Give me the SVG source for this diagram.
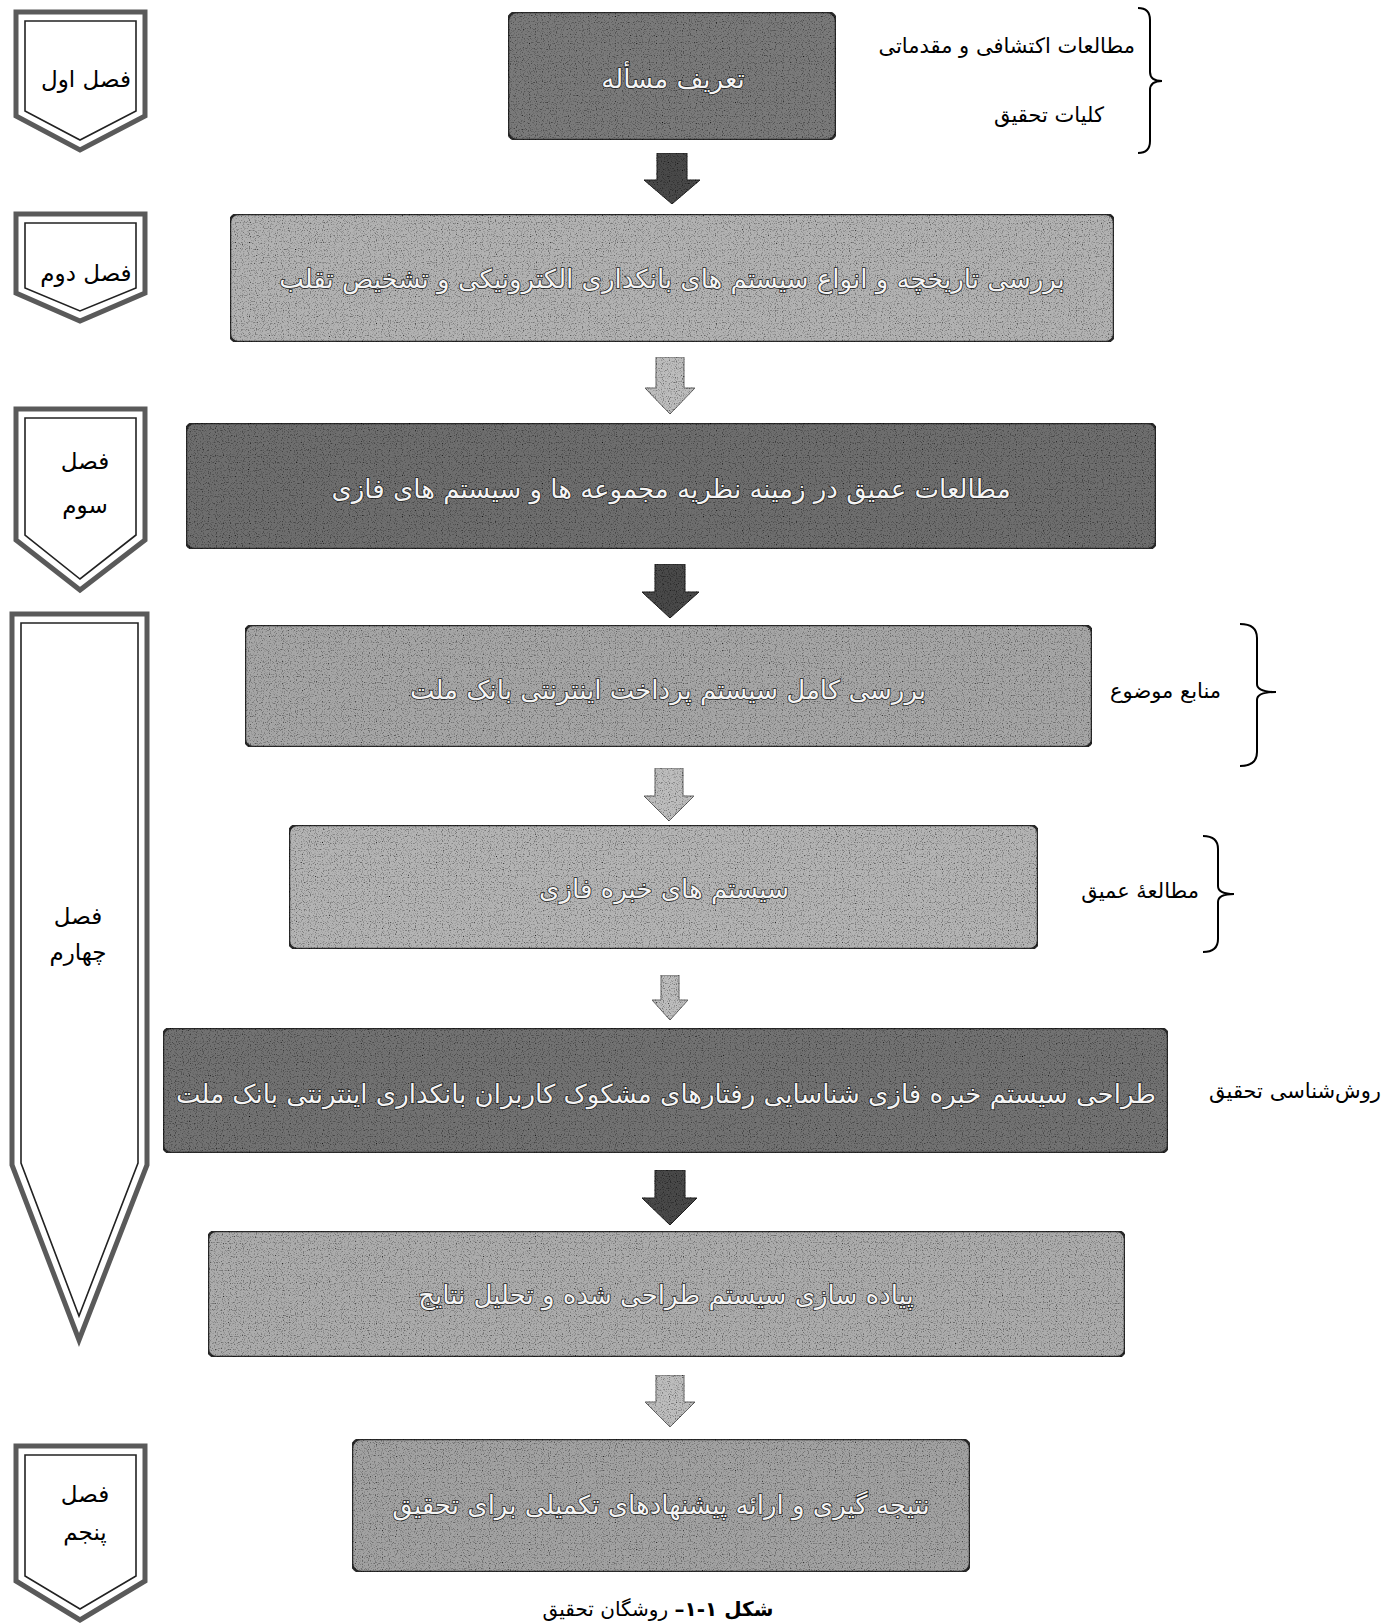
<svg xmlns="http://www.w3.org/2000/svg" width="1382" height="1623" viewBox="0 0 1382 1623">
<style>
.box{stroke:#2a2a2a;stroke-width:2.5}
.bt{font-family:"DejaVu Sans",sans-serif;font-size:26px;fill:#f4f4f4;stroke:#222;stroke-width:1.6;paint-order:stroke;text-anchor:middle;direction:rtl}
.lbl{font-family:"DejaVu Sans",sans-serif;font-size:21px;fill:#000;direction:rtl}
.ch-out{fill:#fff;stroke:#5a5a5a;stroke-width:5;stroke-linejoin:miter}
.ch-in{fill:none;stroke:#222;stroke-width:1.6}
.cht{font-family:"DejaVu Sans",sans-serif;font-size:23px;fill:#000;text-anchor:middle;direction:rtl}
.brace{fill:none;stroke:#000;stroke-width:2}
.ad{fill:#4a4a4a;stroke:#222;stroke-width:1}
.al{fill:#bdbdbd;stroke:#666;stroke-width:1}
</style>
<defs>
<filter id="grain" x="0" y="0" width="100%" height="100%">
<feTurbulence type="fractalNoise" baseFrequency="0.85" numOctaves="1" seed="3" result="n"/>
<feColorMatrix in="n" type="matrix" values="0 0 0 0 0  0 0 0 0 0  0 0 0 0 0  0 0 0 -3 1.45" result="dots"/>
<feComposite in="dots" in2="SourceGraphic" operator="in" result="d2"/>
<feMerge><feMergeNode in="SourceGraphic"/><feMergeNode in="d2"/></feMerge>
</filter>
</defs>
<rect width="1382" height="1623" fill="#fff"/>

<g id="connectors">
<path class="ad" filter="url(#grain)" d="M657,153 H687 V180 H700 L672,204 L644,180 H657 Z"/>
<path class="al" filter="url(#grain)" d="M656,357 H684 V388 H695 L670,414 L645,388 H656 Z"/>
<path class="ad" filter="url(#grain)" d="M655,564 H685 V592 H699 L670,618 L642,592 H655 Z"/>
<path class="al" filter="url(#grain)" d="M655,768 H683 V796 H694 L669,821 L644,796 H655 Z"/>
<path class="al" filter="url(#grain)" d="M661,975 H679 V1000 H688 L670,1020 L652,1000 H661 Z"/>
<path class="ad" filter="url(#grain)" d="M655,1170 H685 V1198 H697 L670,1225 L642,1198 H655 Z"/>
<path class="al" filter="url(#grain)" d="M656,1375 H684 V1402 H695 L670,1427 L645,1402 H656 Z"/>
</g>

<g id="box1"><rect class="box" x="508" y="12" width="328" height="128" rx="9" fill="#7a7a7a" filter="url(#grain)"/><text class="bt" x="673" y="88" font-size="27">تعریف مسأله</text></g>
<g id="box2"><rect class="box" x="230" y="214" width="884" height="128" rx="8" fill="#b2b2b2" filter="url(#grain)"/><text class="bt" x="672" y="288" font-size="28">بررسی تاریخچه و انواع سیستم های بانکداری الکترونیکی و تشخیص تقلب</text></g>
<g id="box3"><rect class="box" x="186" y="423" width="970" height="126" rx="8" fill="#6e6e6e" filter="url(#grain)"/><text class="bt" x="671" y="498" font-size="27">مطالعات عمیق در زمینه نظریه مجموعه ها و سیستم های فازی</text></g>
<g id="box4"><rect class="box" x="245" y="625" width="847" height="122" rx="8" fill="#a6a6a6" filter="url(#grain)"/><text class="bt" x="668" y="699" font-size="29">بررسی کامل سیستم پرداخت اینترنتی بانک ملت</text></g>
<g id="box5"><rect class="box" x="289" y="825" width="749" height="124" rx="8" fill="#b4b4b4" filter="url(#grain)"/><text class="bt" x="664" y="898">سیستم های خبره فازی</text></g>
<g id="box6"><rect class="box" x="163" y="1028" width="1005" height="125" rx="8" fill="#727272" filter="url(#grain)"/><text class="bt" x="666" y="1103" font-size="28">طراحی سیستم خبره فازی شناسایی رفتارهای مشکوک کاربران بانکداری اینترنتی بانک ملت</text></g>
<g id="box7"><rect class="box" x="208" y="1231" width="917" height="126" rx="8" fill="#acacac" filter="url(#grain)"/><text class="bt" x="666" y="1304">پیاده سازی سیستم طراحی شده و تحلیل نتایج</text></g>
<g id="box8"><rect class="box" x="352" y="1439" width="618" height="133" rx="9" fill="#a2a2a2" filter="url(#grain)"/><text class="bt" x="661" y="1514" font-size="27">نتیجه گیری و ارائه پیشنهادهای تکمیلی برای تحقیق</text></g>

<g id="chapter1"><polygon class="ch-out" points="16,12 145,12 145,116 80,150 16,116"/><polygon class="ch-in" points="25,21 136,21 136,111 80,140 25,111"/><text class="cht" x="86" y="87">فصل اول</text></g>
<g id="chapter2"><polygon class="ch-out" points="16,214 145,214 145,293 80,321 16,293"/><polygon class="ch-in" points="25,223 136,223 136,288 80,311 25,288"/><text class="cht" x="86" y="281">فصل دوم</text></g>
<g id="chapter3"><polygon class="ch-out" points="16,409 145,409 145,540 80,590 16,540"/><polygon class="ch-in" points="25,418 136,418 136,535 80,579 25,535"/><text class="cht" x="85" y="469">فصل</text><text class="cht" x="85" y="513">سوم</text></g>
<g id="chapter4"><polygon class="ch-out" points="12,614 147,614 147,1165 79,1340 12,1165"/><polygon class="ch-in" points="21,623 138,623 138,1163 79,1316 21,1163"/><text class="cht" x="78" y="924">فصل</text><text class="cht" x="78" y="960">چهارم</text></g>
<g id="chapter5"><polygon class="ch-out" points="16,1446 145,1446 145,1581 80,1620 16,1581"/><polygon class="ch-in" points="25,1455 136,1455 136,1576 80,1609 25,1576"/><text class="cht" x="85" y="1502">فصل</text><text class="cht" x="85" y="1540">پنجم</text></g>

<g id="notes">
<text class="lbl" x="1135" y="53">مطالعات اکتشافی و مقدماتی</text>
<text class="lbl" x="1104" y="122">کلیات تحقیق</text>
<path class="brace" d="M1138,8 Q1150,8 1150,20 L1150,72 Q1150,81 1162,81 Q1150,81 1150,90 L1150,141 Q1150,153 1138,153"/>
<text class="lbl" x="1221" y="698">منابع موضوع</text>
<path class="brace" d="M1240,624 Q1257,624 1257,638 L1257,684 Q1257,692 1276,692 Q1257,692 1257,700 L1257,752 Q1257,766 1240,766"/>
<text class="lbl" x="1199" y="898">مطالعهٔ عمیق</text>
<path class="brace" d="M1203,836 Q1218,836 1218,849 L1218,886 Q1218,894 1234,894 Q1218,894 1218,902 L1218,939 Q1218,952 1203,952"/>
<text class="lbl" x="1381" y="1098">روش‌شناسی تحقیق</text>
</g>

<g id="caption"><text x="658" y="1616" font-family="'DejaVu Sans',sans-serif" font-size="20" text-anchor="middle" direction="rtl"><tspan font-weight="bold">شکل ۱-۱–</tspan> روشگان تحقیق</text></g>
</svg>
